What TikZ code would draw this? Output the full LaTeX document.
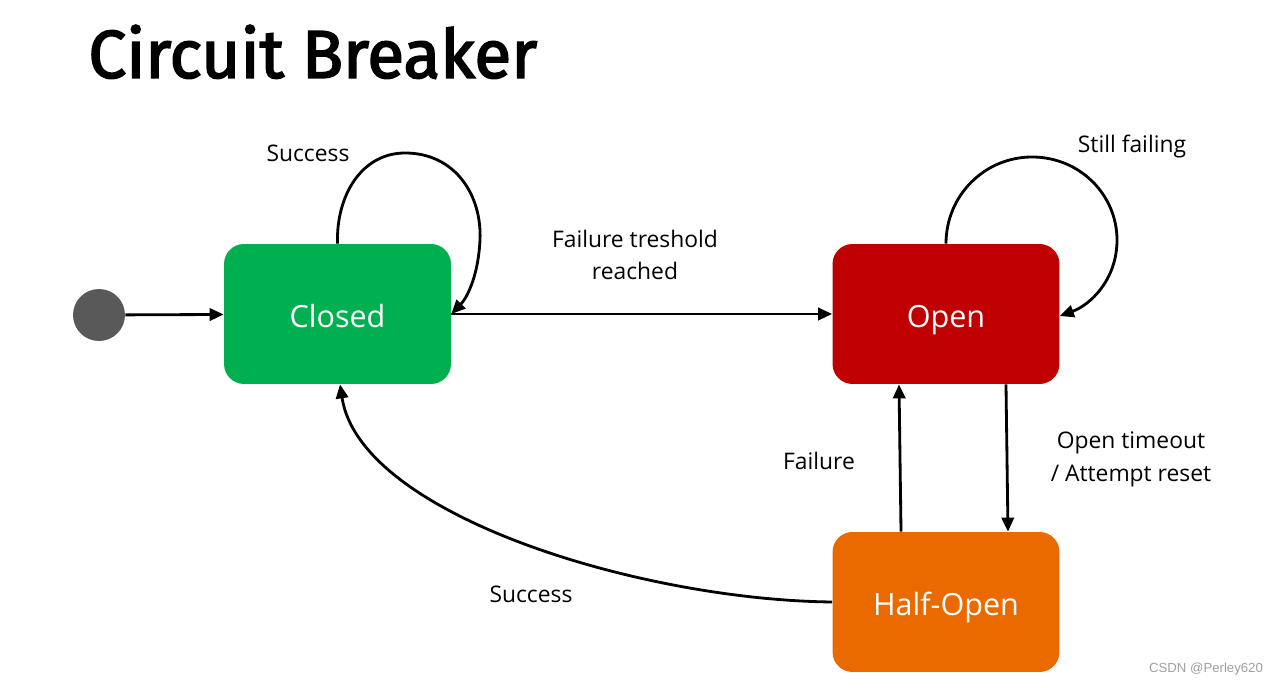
\documentclass[tikz,border=0pt]{standalone}
\usepackage{fontspec}
\setmainfont{Open Sans}
\newfontfamily\titlefont[FakeBold=2.5]{Fira Sans}
\newfontfamily\wmfont{Liberation Sans}
\usetikzlibrary{arrows.meta}
\definecolor{cgreen}{HTML}{00B050}
\definecolor{cred}{HTML}{C00000}
\definecolor{corange}{HTML}{EA6A00}
\definecolor{cgray}{HTML}{595959}
\definecolor{wmgray}{HTML}{A0A0A0}
\tikzset{
  statebox/.style={rounded corners=0.4cm, minimum width=4.54cm, minimum height=2.8cm, inner sep=0pt, text=white, text height=15pt, text depth=0pt, font=\fontsize{17.4}{20}\selectfont},
  conn/.style={line width=1.6pt, -{Triangle[length=8pt,width=7pt]}},
  lbl/.style={font=\fontsize{13}{18.7}\selectfont, align=center, inner sep=0pt}
}
\begin{document}
\begin{tikzpicture}[x=0.02cm, y=-0.02cm]
\useasboundingbox (0,0) rectangle (1281,688);
\fill[white] (0,0) rectangle (1281,688);
% title
\node[anchor=south west, inner sep=0pt] (title) at (88,79) {\resizebox{8.98cm}{!}{\titlefont Circuit Breaker}};
% states
\node[circle, fill=cgray, minimum size=1.04cm, inner sep=0pt] (start) at (99,315) {};
\node[statebox, fill=cgreen] (closed) at (337.5,314) {Closed};
\node[statebox, fill=cred] (open) at (946,314) {Open};
\node[statebox, fill=corange] (half) at (946,602) {Half-Open};
% connectors
\draw[conn] (start) -- (closed);
\draw[conn] (closed.east) -- (open.west);
\draw[conn] (closed.north) .. controls (336,195) and (362,153) .. (405,153)
  .. controls (455,153) and (482,195) .. (480,240)
  .. controls (478,280) and (465,300) .. (closed.east);
\draw[conn] (open.north) .. controls (946,195) and (985,157) .. (1032,157)
  .. controls (1080,157) and (1117,195) .. (1117,240)
  .. controls (1117,280) and (1090,305) .. ([yshift=-0.04cm]open.east);
\draw[conn] ([xshift=1.2cm]open.south) -- ([xshift=1.24cm]half.north);
\draw[conn] ([xshift=-0.9cm]half.north) -- ([xshift=-0.94cm]open.south);
\draw[conn] (half.west) .. controls (640,600) and (360,515) .. ([xshift=0.05cm]closed.south);
% labels
\node[lbl] (l1) at (308,153) {Success};
\node[lbl] (l2) at (635,255) {Failure treshold\\reached};
\node[lbl] (l3) at (1132,147) {Still failing};
\node[lbl] (l4) at (819,461) {Failure};
\node[lbl] (l5) at (1131,459) {Open timeout\\/ Attempt reset};
\node[lbl] (l6) at (531,594) {Success};
\node[font=\wmfont\fontsize{7.5}{9}\selectfont, text=wmgray, inner sep=0pt] (wm) at (1206,669) {CSDN @Perley620};
\end{tikzpicture}
\end{document}
